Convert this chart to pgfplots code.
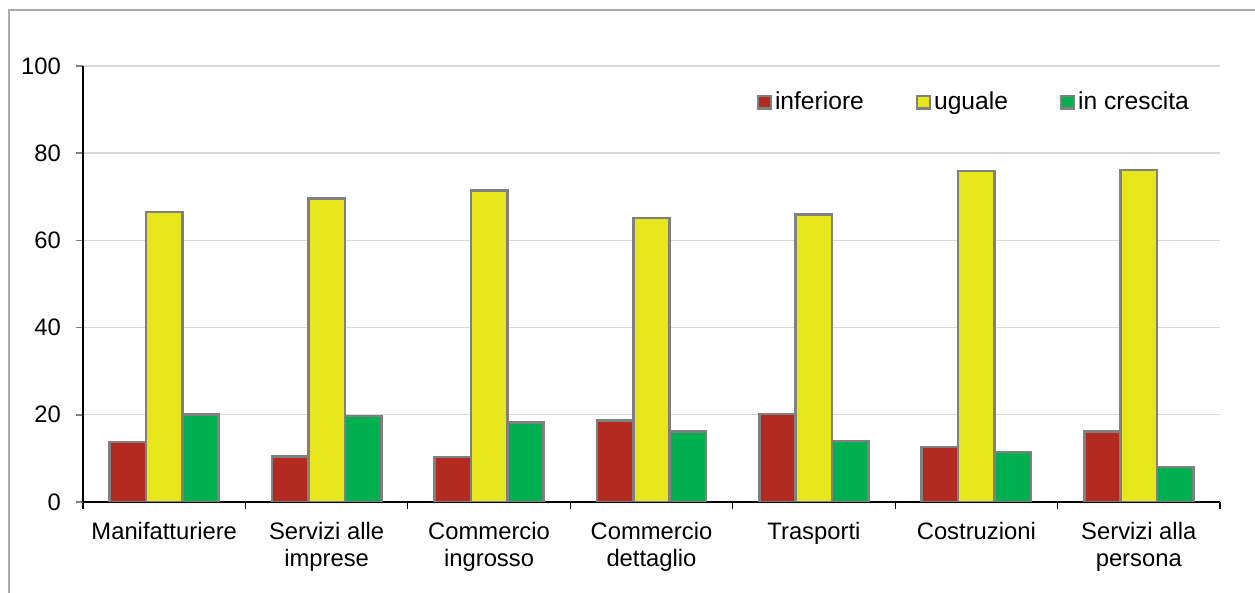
\documentclass[border=0pt]{standalone}
\usepackage{pgfplots}
\pgfplotsset{compat=1.18}
\usepackage{pgfplotstable}
\usepackage{fontspec}
\setmainfont{Liberation Sans}

\definecolor{cRed}{RGB}{178,42,32}
\definecolor{cYel}{RGB}{230,230,26}
\definecolor{cGrn}{RGB}{0,176,80}
\definecolor{cEdge}{RGB}{128,128,128}
\definecolor{cGrid}{RGB}{217,217,217}
\definecolor{cFrame}{RGB}{170,170,170}

% 0 Manifatturiere ... 6 Servizi alla persona
\pgfplotstableread{
x inferiore uguale crescita
0 13.8 66.5 20.0
1 10.5 69.6 19.7
2 10.3 71.5 18.2
3 18.7 65.1 16.2
4 20.2 66.0 14.0
5 12.6 75.9 11.5
6 16.1 76.1 8.0
}\datatab

\begin{document}
\begin{tikzpicture}
\useasboundingbox (0pt,0pt) rectangle (627.5pt,296.5pt);
\draw[cFrame, line width=0.6pt] (4.5pt,0pt) -- (4.5pt,291.5pt) -- (627.5pt,291.5pt);

\begin{axis}[
	at={(41.5pt,45.5pt)}, anchor=south west,
	scale only axis,
	width=568.5pt, height=218pt,
	ybar=0pt, bar width=0.224,
	xmin=-0.5, xmax=6.5,
	ymin=0, ymax=100,
	ytick={0,20,...,100},
	xtick={0,...,6},
	xticklabels={Manifatturiere, Servizi alle\\imprese, Commercio\\ingrosso, Commercio\\dettaglio, Trasporti, Costruzioni, Servizi alla\\persona},
	minor xtick={-0.5,0.5,...,6.5},
	major x tick style={draw=none},
	minor x tick style={black, line width=0.6pt},
	y tick style={cEdge, line width=0.8pt},
	tick align=outside,
	major tick length=3.5pt,
	minor tick length=3.5pt,
	axis x line*=bottom,
	axis y line*=left,
	axis line style={black, line width=0.7pt, -},
	ymajorgrids,
	grid style={cGrid, line width=0.7pt},
	/pgf/number format/assume math mode=true,
	tick label style={font=\fontsize{11.9}{13.5}\selectfont},
	xticklabel style={align=center, yshift=-3pt},
	yticklabel style={xshift=-4pt},
	legend columns=3,
	legend style={at={(0.587,0.917)}, anchor=west, draw=none, fill=none,
		font=\fontsize{12.3}{13.5}\selectfont,
		/tikz/every even column/.append style={column sep=24.5pt},
		nodes={inner xsep=1.5pt}},
	legend image code/.code={\draw[#1, line width=1.2pt] (0pt,-3.2pt) rectangle (6.4pt,3.2pt);},
	every axis plot/.append style={draw=cEdge, line width=1.3pt},
]
\addplot[fill=cRed] table[x=x, y=inferiore] {\datatab};
\addplot[fill=cYel] table[x=x, y=uguale] {\datatab};
\addplot[fill=cGrn] table[x=x, y=crescita] {\datatab};
\legend{inferiore, uguale, in crescita}
\end{axis}
\end{tikzpicture}
\end{document}
